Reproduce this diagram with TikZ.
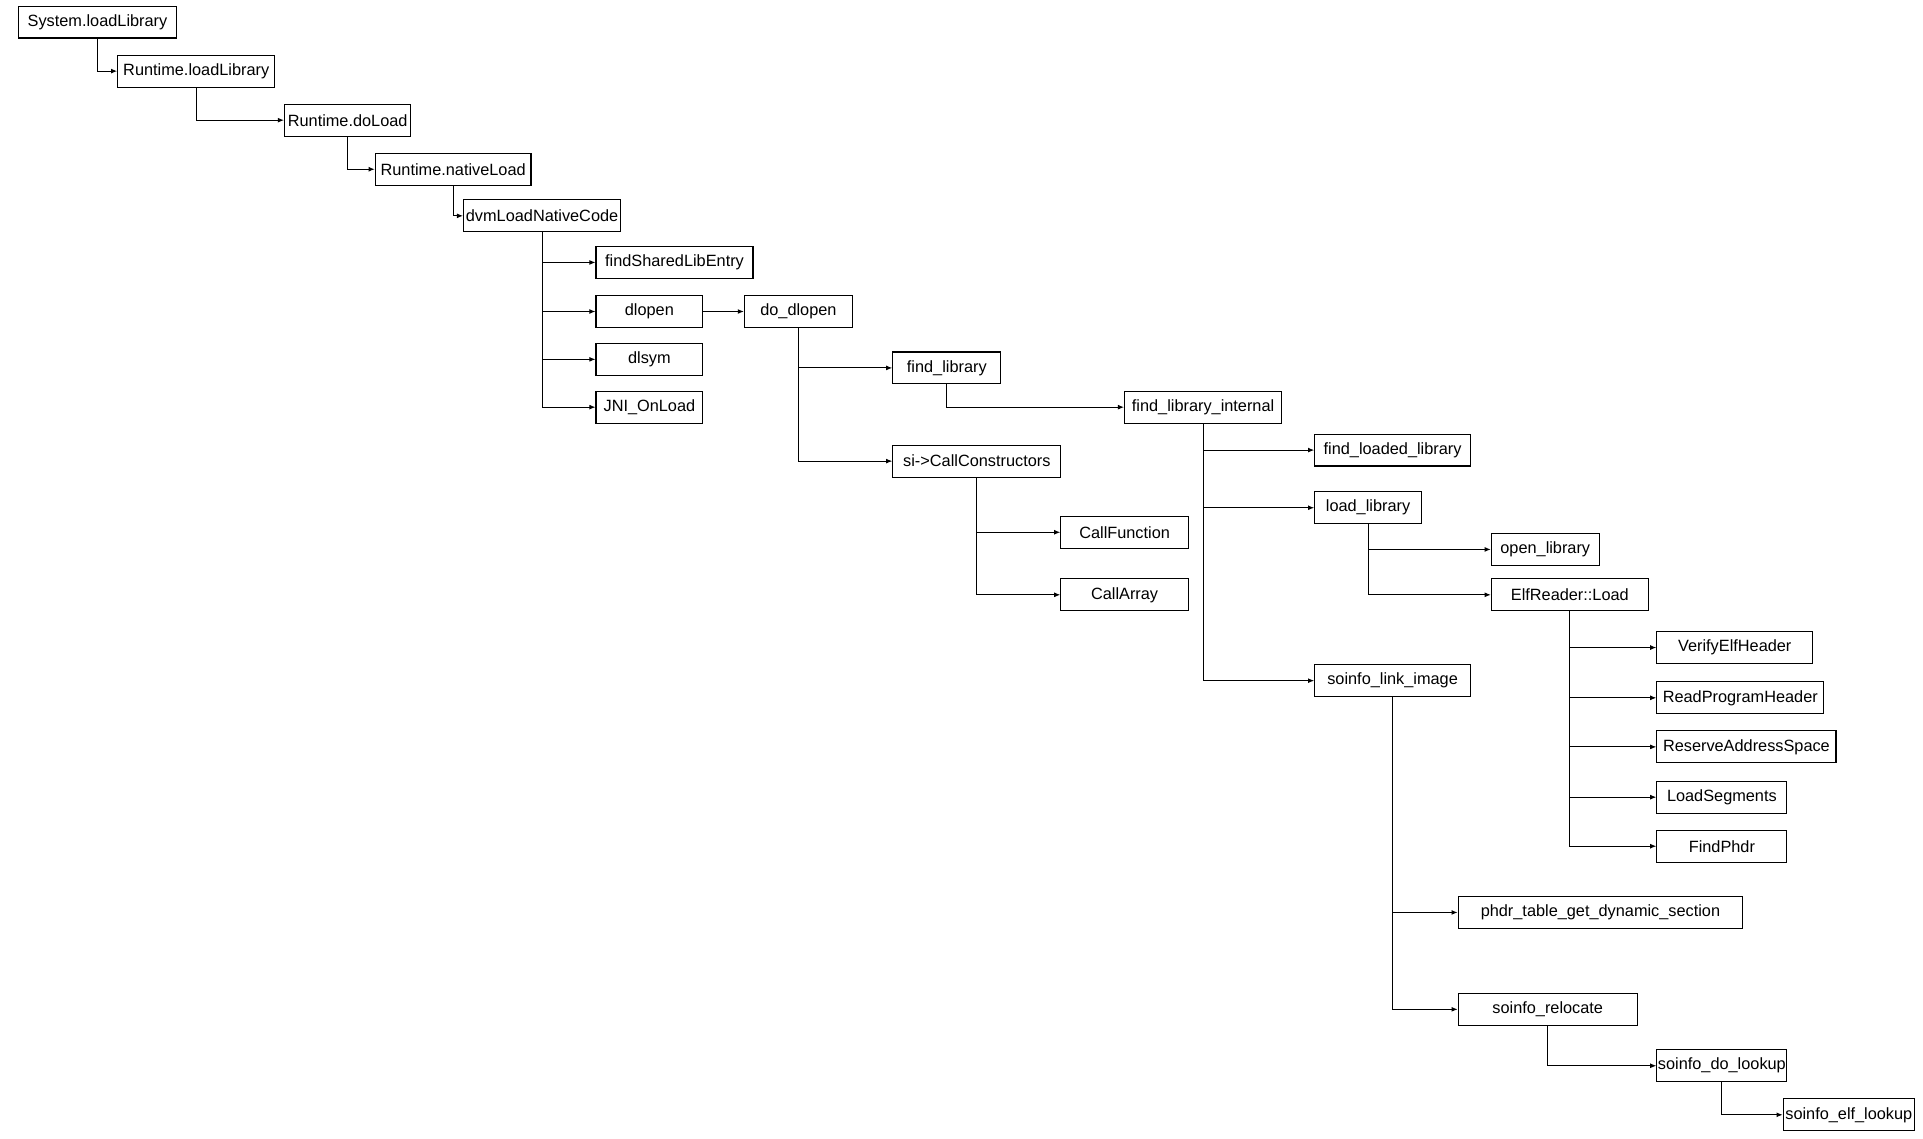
\documentclass[tikz,border=0pt]{standalone}
\usepackage{fontspec}
\setmainfont{Liberation Sans}
\usepackage{tikz}
\usetikzlibrary{arrows.meta}

\begin{document}
\begin{tikzpicture}[
    x=1pt, y=-1pt,
    font=\fontsize{13.3}{15}\selectfont,
    fn/.style={draw, line width=0.9pt, minimum height=26pt, inner sep=0pt, align=center, fill=white},
    call/.style={-{Latex[length=5pt,width=4pt]}, line width=0.8pt}
]
\useasboundingbox (0,-1) rectangle (1568,927);

\node[fn, minimum width=129] (sys) at (79.5,17) {System.loadLibrary};
\node[fn, minimum width=128] (rll) at (160,57) {Runtime.loadLibrary};
\node[fn, minimum width=103] (rdl) at (283.5,97) {Runtime.doLoad};
\node[fn, minimum width=127] (rnl) at (369.5,137) {Runtime.nativeLoad};
\node[fn, minimum width=128] (dvm) at (442,175) {dvmLoadNativeCode};

\node[fn, minimum width=128] (fsle) at (550,213) {findSharedLibEntry};
\node[fn, minimum width=87] (dlopen) at (529.5,253) {dlopen};
\node[fn, minimum width=87] (dlsym) at (529.5,292) {dlsym};
\node[fn, minimum width=87] (jni) at (529.5,331) {JNI\_OnLoad};

\node[fn, minimum width=88] (dodl) at (651,253) {do\_dlopen};
\node[fn, minimum width=88] (flib) at (772,299) {find\_library};
\node[fn, minimum width=128] (flibi) at (981,331) {find\_library\_internal};
\node[fn, minimum width=137] (ctor) at (796.5,375) {si->CallConstructors};
\node[fn, minimum width=104] (cfunc) at (917,433) {CallFunction};
\node[fn, minimum width=104] (carr) at (917,484) {CallArray};

\node[fn, minimum width=127] (fll) at (1135.5,366) {find\_loaded\_library};
\node[fn, minimum width=87] (llib) at (1115.5,413) {load\_library};
\node[fn, minimum width=88] (olib) at (1260,447) {open\_library};
\node[fn, minimum width=128] (elf) at (1280,484) {ElfReader::Load};
\node[fn, minimum width=127] (veh) at (1414.5,527) {VerifyElfHeader};
\node[fn, minimum width=136] (rph) at (1419,568) {ReadProgramHeader};
\node[fn, minimum width=146] (ras) at (1424,608) {ReserveAddressSpace};
\node[fn, minimum width=106] (lseg) at (1404,649) {LoadSegments};
\node[fn, minimum width=106] (fphdr) at (1404,689) {FindPhdr};

\node[fn, minimum width=127] (sli) at (1135.5,554) {soinfo\_link\_image};
\node[fn, minimum width=232] (phdr) at (1305,743) {phdr\_table\_get\_dynamic\_section};
\node[fn, minimum width=146] (sreloc) at (1262,822) {soinfo\_relocate};
\node[fn, minimum width=106] (sdl) at (1404,868) {soinfo\_do\_lookup};
\node[fn, minimum width=107] (sel) at (1507.5,908) {soinfo\_elf\_lookup};

\draw[call] (sys.south) |- (rll.west);
\draw[call] (rll.south) |- (rdl.west);
\draw[call] (rdl.south) |- (rnl.west);
\draw[call] (rnl.south) |- (dvm.west);

\draw[call] (dvm.south) |- (fsle.west);
\draw[call] (dvm.south) |- (dlopen.west);
\draw[call] (dvm.south) |- (dlsym.west);
\draw[call] (dvm.south) |- (jni.west);

\draw[call] (dlopen.east) -- (dodl.west);
\draw[call] (dodl.south) |- (flib.west);
\draw[call] (dodl.south) |- (ctor.west);
\draw[call] (flib.south) |- (flibi.west);
\draw[call] (ctor.south) |- (cfunc.west);
\draw[call] (ctor.south) |- (carr.west);

\draw[call] (flibi.south) |- (fll.west);
\draw[call] (flibi.south) |- (llib.west);
\draw[call] (flibi.south) |- (sli.west);
\draw[call] (llib.south) |- (olib.west);
\draw[call] (llib.south) |- (elf.west);
\draw[call] (elf.south) |- (veh.west);
\draw[call] (elf.south) |- (rph.west);
\draw[call] (elf.south) |- (ras.west);
\draw[call] (elf.south) |- (lseg.west);
\draw[call] (elf.south) |- (fphdr.west);

\draw[call] (sli.south) |- (phdr.west);
\draw[call] (sli.south) |- (sreloc.west);
\draw[call] (sreloc.south) |- (sdl.west);
\draw[call] (sdl.south) |- (sel.west);
\end{tikzpicture}
\end{document}
